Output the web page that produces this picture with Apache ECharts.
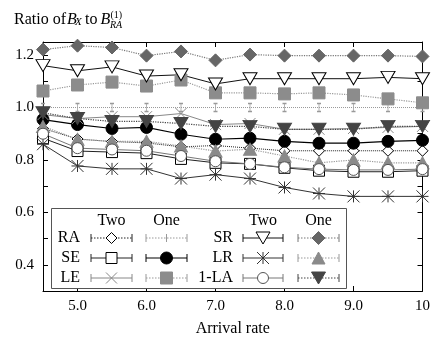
<!DOCTYPE html>
<html>
<head>
<meta charset="utf-8">
<script src="https://cdn.jsdelivr.net/npm/echarts@6/dist/echarts.min.js"></script>
<style>
html,body{margin:0;padding:0;background:#fff;}
#c{width:433px;height:342px;}
</style>
</head>
<body>
<div id="c"></div>
<script>
// ---- data ----
var arrivalRate = [4.5, 5.0, 5.5, 6.0, 6.5, 7.0, 7.5, 8.0, 8.5, 9.0, 9.5, 10];
var xTickValues = [5, 6, 7, 8, 9, 10];
var yTickValues = [0.4, 0.5, 0.6, 0.7, 0.8, 0.9, 1.0, 1.1, 1.2];
var yLabelValues = [0.4, 0.6, 0.8, 1.0, 1.2];

var twoRA  = [0.92, 0.88, 0.87, 0.865, 0.85, 0.855, 0.845, 0.835, 0.835, 0.835, 0.835, 0.835];
var twoSE  = [0.883, 0.834, 0.830, 0.826, 0.804, 0.789, 0.785, 0.770, 0.759, 0.755, 0.755, 0.759];
var twoLE  = [0.973, 0.958, 0.965, 0.965, 0.977, 0.935, 0.939, 0.917, 0.917, 0.920, 0.924, 0.928];
var twoSR  = [1.16, 1.14, 1.155, 1.12, 1.125, 1.09, 1.11, 1.11, 1.11, 1.11, 1.115, 1.11];
var twoLR  = [0.860, 0.777, 0.766, 0.766, 0.729, 0.744, 0.729, 0.695, 0.672, 0.661, 0.661, 0.661];
var two1LA = [0.90, 0.845, 0.84, 0.835, 0.815, 0.795, 0.785, 0.772, 0.765, 0.762, 0.762, 0.765];

var oneRA  = [1.0, 1.0, 1.0, 1.0, 1.0, 1.0, 1.0, 1.0, 1.0, 1.0, 1.0, 1.0];
var oneSE  = [0.954, 0.935, 0.920, 0.924, 0.898, 0.879, 0.883, 0.871, 0.864, 0.864, 0.871, 0.875];
var oneLE  = [1.063, 1.086, 1.097, 1.082, 1.105, 1.056, 1.056, 1.052, 1.056, 1.048, 1.033, 1.018];
var oneSR  = [1.221, 1.236, 1.229, 1.198, 1.214, 1.180, 1.202, 1.198, 1.198, 1.198, 1.198, 1.195];
var oneLR  = [0.928, 0.879, 0.871, 0.871, 0.853, 0.834, 0.841, 0.815, 0.789, 0.800, 0.789, 0.789];
var one1LA = [0.980, 0.958, 0.947, 0.947, 0.939, 0.928, 0.928, 0.917, 0.917, 0.917, 0.928, 0.928];

var rowLabelsLeft = ['RA', 'SE', 'LE'];
var rowLabelsRight = ['SR', 'LR', '1-LA'];
var colHeads = ['Two', 'One'];

// ---- styles ----
var FONT = '"Liberation Serif", "DejaVu Serif", serif';
var SYM = {
  x: 'path://M0,0L10,10M10,0L0,10',
  star: 'path://M0,0L10,10M10,0L0,10M5,0L5,10M0,5L10,5',
  ibeam: 'path://M0,0L4,0M2,0L2,10M0,10L4,10'
};
var defs = [
  {name:'Two RA',  data:twoRA,  lc:'#222', lt:'dotted', lw:1, kind:'diamond', fill:'#fff', stroke:'#000', size:11},
  {name:'One RA',  data:oneRA,  lc:'#999', lt:'dotted', lw:1, kind:'ibeam',   fill:'none', stroke:'#999', size:[4,8]},
  {name:'Two SE',  data:twoSE,  lc:'#222', lt:'solid',  lw:1, kind:'rect',    fill:'#fff', stroke:'#000', size:11},
  {name:'One SE',  data:oneSE,  lc:'#000', lt:'solid',  lw:1.2, kind:'circle', fill:'#000', stroke:'#000', size:12},
  {name:'Two LE',  data:twoLE,  lc:'#888', lt:'solid',  lw:1, kind:'x',       fill:'none', stroke:'#888', size:11},
  {name:'One LE',  data:oneLE,  lc:'#999', lt:'dotted', lw:1.2, kind:'rect',  fill:'#8c8c8c', stroke:'#8c8c8c', size:12},
  {name:'Two SR',  data:twoSR,  lc:'#111', lt:'solid',  lw:1, kind:'triDown', fill:'#fff', stroke:'#000', size:[14,12]},
  {name:'One SR',  data:oneSR,  lc:'#777', lt:'dotted', lw:1.2, kind:'diamond', fill:'#666', stroke:'#666', size:13},
  {name:'Two LR',  data:twoLR,  lc:'#333', lt:'solid',  lw:1, kind:'star',    fill:'none', stroke:'#333', size:12},
  {name:'One LR',  data:oneLR,  lc:'#999', lt:'dotted', lw:1.2, kind:'triUp', fill:'#8a8a8a', stroke:'#8a8a8a', size:[13,12]},
  {name:'Two 1-LA',data:two1LA, lc:'#777', lt:'solid',  lw:1, kind:'circle',  fill:'#fff', stroke:'#555', size:11},
  {name:'One 1-LA',data:one1LA, lc:'#444', lt:'dotted', lw:1.2, kind:'triDown', fill:'#444', stroke:'#444', size:[14,12]}
];

function echSymbol(kind){
  if (kind === 'triDown' || kind === 'triUp') return 'triangle';
  if (SYM[kind]) return SYM[kind];
  return kind;
}

var series = defs.map(function(d){
  return {
    name: d.name,
    type: 'line',
    xAxisIndex: 0, yAxisIndex: 0,
    data: arrivalRate.map(function(x, i){ return [x, d.data[i]]; }),
    symbol: echSymbol(d.kind),
    symbolRotate: d.kind === 'triDown' ? 180 : 0,
    symbolSize: d.size,
    showSymbol: true,
    lineStyle: {color: d.lc, type: d.lt, width: d.lw},
    itemStyle: {color: d.fill, borderColor: d.stroke, borderWidth: 1},
    emphasis: {disabled: true},
    z: 2
  };
});

// ---- legend (drawn as graphics) ----
function markerGraphic(d, cx, cy){
  var s = Array.isArray(d.size) ? d.size : [d.size, d.size];
  var w = s[0] / 2, h = s[1] / 2;
  var st = {fill: d.fill === 'none' ? null : d.fill, stroke: d.stroke, lineWidth: 1};
  if (d.kind === 'diamond') return [{type:'polygon', shape:{points:[[cx,cy-h],[cx+w,cy],[cx,cy+h],[cx-w,cy]]}, style:st}];
  if (d.kind === 'rect') return [{type:'rect', shape:{x:cx-w, y:cy-h, width:2*w, height:2*h}, style:st}];
  if (d.kind === 'circle') return [{type:'circle', shape:{cx:cx, cy:cy, r:w}, style:st}];
  if (d.kind === 'triUp') return [{type:'polygon', shape:{points:[[cx,cy-h],[cx+w,cy+h],[cx-w,cy+h]]}, style:st}];
  if (d.kind === 'triDown') return [{type:'polygon', shape:{points:[[cx-w,cy-h],[cx+w,cy-h],[cx,cy+h]]}, style:st}];
  var ls = {stroke: d.stroke, lineWidth: 1};
  if (d.kind === 'ibeam') return [{type:'line', shape:{x1:cx, y1:cy-4, x2:cx, y2:cy+4}, style:ls}];
  var out = [
    {type:'line', shape:{x1:cx-w, y1:cy-h, x2:cx+w, y2:cy+h}, style:ls},
    {type:'line', shape:{x1:cx+w, y1:cy-h, x2:cx-w, y2:cy+h}, style:ls}
  ];
  if (d.kind === 'star') out.push({type:'line', shape:{x1:cx, y1:cy-h, x2:cx, y2:cy+h}, style:ls});
  return out;
}
function sampleGraphic(d, x0, x1, y){
  var ls = {stroke: d.lc, lineWidth: d.lw, lineDash: d.lt === 'dotted' ? [1.5, 1.5] : null};
  var cs = {stroke: d.lc, lineWidth: 1};
  var g = [
    {type:'line', shape:{x1:x0, y1:y, x2:x1, y2:y}, style:ls},
    {type:'line', shape:{x1:x0, y1:y-4, x2:x0, y2:y+4}, style:cs},
    {type:'line', shape:{x1:x1, y1:y-4, x2:x1, y2:y+4}, style:cs}
  ];
  return g.concat(markerGraphic(d, (x0 + x1) / 2, y));
}
function txt(t, x, y, opt){
  opt = opt || {};
  return {type:'text', x:x, y:y, style:{text:t, font:(opt.italic ? 'italic ' : '') + (opt.size || 16) + 'px ' + FONT,
    fill:'#000', align:opt.align || 'left', verticalAlign:opt.va || 'middle'}, z:10};
}

var legendEls = [];
legendEls.push({type:'rect', shape:{x:51.5, y:208.5, width:295, height:80}, style:{fill:'#fff', stroke:'#555', lineWidth:1}, z:5});
var rowsY = [238, 258, 278];
var blocks = [
  {labels: rowLabelsLeft, labelX: 80, twoX: [91, 132], oneX: [146, 187], offset: 0},
  {labels: rowLabelsRight, labelX: 233, twoX: [243, 283], oneX: [298, 339], offset: 6}
];
blocks.forEach(function(b){
  legendEls.push(txt(colHeads[0], (b.twoX[0] + b.twoX[1]) / 2, 221, {align:'center'}));
  legendEls.push(txt(colHeads[1], (b.oneX[0] + b.oneX[1]) / 2, 221, {align:'center'}));
  for (var r = 0; r < 3; r++){
    var y = rowsY[r];
    legendEls.push(txt(b.labels[r], b.labelX, y, {align:'right'}));
    var dTwo = defs[b.offset + r * 2], dOne = defs[b.offset + r * 2 + 1];
    sampleGraphic(dTwo, b.twoX[0], b.twoX[1], y).forEach(function(e){ e.z = 10; legendEls.push(e); });
    sampleGraphic(dOne, b.oneX[0], b.oneX[1], y).forEach(function(e){ e.z = 10; legendEls.push(e); });
  }
});

// title "Ratio of Bx to B(1)RA"
var titleEls = [
  txt('Ratio of', 14, 20),
  txt('B', 67, 20, {italic:true}),
  txt('X', 75, 22.5, {italic:true, size:11}),
  txt('to', 85, 20),
  txt('B', 100.5, 20, {italic:true}),
  txt('(1)', 110.5, 15, {size:10}),
  txt('RA', 110, 25.5, {italic:true, size:10})
];

var axisCommon = {
  type: 'value',
  axisLine: {show: true, onZero: false, lineStyle: {color: '#000', width: 1}},
  splitLine: {show: false}
};

var option = {
  animation: false,
  backgroundColor: '#fff',
  grid: {left: 43, right: 10, top: 42, bottom: 45, containLabel: false},
  xAxis: [
    Object.assign({}, axisCommon, {
      position: 'bottom', min: 4.5, max: 10,
      axisTick: {show: true, inside: true, length: 5, customValues: xTickValues, lineStyle: {color: '#000'}},
      axisLabel: {customValues: xTickValues, margin: 8, color: '#000', fontFamily: FONT, fontSize: 15,
        formatter: function(v){ return v === 10 ? '10' : v.toFixed(1); }},
      name: 'Arrival rate', nameLocation: 'middle', nameGap: 30,
      nameTextStyle: {color: '#000', fontFamily: FONT, fontSize: 16}
    }),
    Object.assign({}, axisCommon, {
      position: 'top', min: 4.5, max: 10,
      axisTick: {show: true, inside: true, length: 5, customValues: xTickValues, lineStyle: {color: '#000'}},
      axisLabel: {show: false}
    })
  ],
  yAxis: [
    Object.assign({}, axisCommon, {
      position: 'left', min: 0.3, max: 1.25,
      axisTick: {show: true, inside: true, length: 5, customValues: yTickValues, lineStyle: {color: '#000'}},
      axisLabel: {customValues: yLabelValues, margin: 9, color: '#000', fontFamily: FONT, fontSize: 15,
        formatter: function(v){ return v.toFixed(1); }}
    }),
    Object.assign({}, axisCommon, {
      position: 'right', min: 0.3, max: 1.25,
      axisTick: {show: true, inside: true, length: 5, customValues: yTickValues, lineStyle: {color: '#000'}},
      axisLabel: {show: false}
    })
  ],
  series: series,
  graphic: titleEls.concat(legendEls)
};

var chart = echarts.init(document.getElementById('c'), null, {renderer: 'canvas'});
chart.setOption(option);
</script>
</body>
</html>
